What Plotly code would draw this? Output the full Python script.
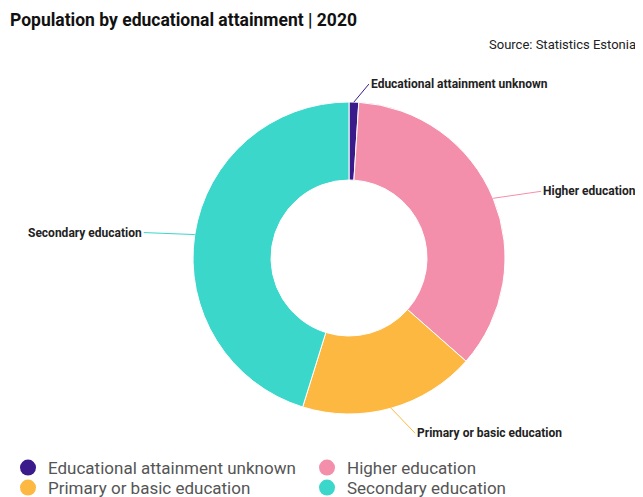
import math
import plotly.graph_objects as go

categories = ["Educational attainment unknown", "Higher education",
              "Primary or basic education", "Secondary education"]
values = [1.0, 35.5, 18.3, 45.2]
colors = ["#3b1a8c", "#f48fab", "#fdb842", "#3bd7cb"]
legend_rows = ["legend", "legend", "legend2", "legend2"]

W, H = 643, 497
OFF = 8  # page body margin in the browser


def px(x):
    return (x - OFF) / W


def py(y):
    return 1 - (y - OFF) / H


cx, cy, R = 349, 258, 156  # pie centre / radius in page px

fig = go.Figure()
fig.add_trace(go.Pie(
    labels=categories, values=values, hole=0.5, sort=False,
    direction="clockwise", rotation=0,
    marker=dict(colors=colors, line=dict(color="white", width=1)),
    textinfo="none", hoverinfo="label+percent", showlegend=False,
    domain=dict(x=[px(cx - R), px(cx + R)], y=[py(cy + R), py(cy - R)]),
))

for c, col, lg in zip(categories, colors, legend_rows):
    fig.add_trace(go.Scatter(
        x=[None], y=[None], mode="markers", name=c, legend=lg,
        marker=dict(symbol="circle", size=16, color=col),
    ))

offsets = [(15, -18, "left"), (48, -7, "left"), (24, 25, "left"), (-51, -2, "right")]
total = sum(values)
cum = 0.0
for c, v, col, (ax, ay, xa) in zip(categories, values, colors, offsets):
    mid = (cum + v / 2) / total * 2 * math.pi
    cum += v
    X = cx + R * math.sin(mid)
    Y = cy - R * math.cos(mid)
    fig.add_annotation(
        x=px(X), y=py(Y), xref="paper", yref="paper",
        text="<b>" + c + "</b>", showarrow=True, arrowhead=0,
        arrowwidth=1, arrowcolor=col, ax=ax, ay=ay, xanchor=xa,
        font=dict(family="Roboto", size=12, color="#222"),
    )

fig.add_annotation(
    x=px(8), y=py(20), xref="paper", yref="paper", showarrow=False,
    xanchor="left", yanchor="middle",
    text="<b>Population by educational attainment | 2020</b>",
    font=dict(family="Roboto", size=17.5, color="#111"),
)
fig.add_annotation(
    x=px(638), y=py(44), xref="paper", yref="paper", showarrow=False,
    xanchor="right", yanchor="middle",
    text="Source: Statistics Estonia",
    font=dict(family="Roboto", size=13, color="#222"),
)

legend_style = dict(orientation="h", xanchor="left", yanchor="middle",
                    entrywidth=254, entrywidthmode="pixels",
                    font=dict(family="Roboto", size=17, color="#555"),
                    itemwidth=30, bgcolor="rgba(0,0,0,0)")

fig.update_layout(
    width=W, height=H, margin=dict(l=0, r=0, t=0, b=0, autoexpand=False),
    paper_bgcolor="white", plot_bgcolor="white",
    xaxis=dict(visible=False), yaxis=dict(visible=False),
    legend=dict(x=px(8), y=py(468), **legend_style),
    legend2=dict(x=px(8), y=py(488), **legend_style),
    font=dict(family="Roboto"),
)

fig.write_html("out.html")
